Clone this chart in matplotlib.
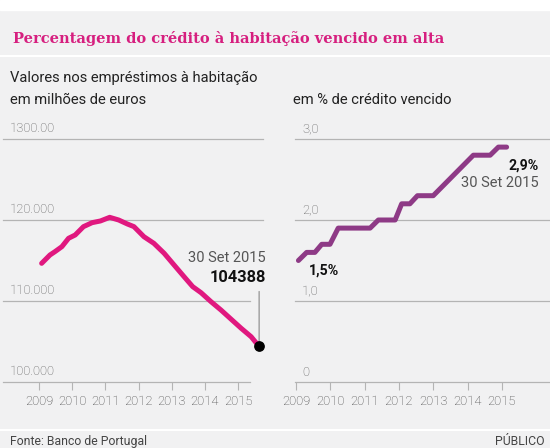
import matplotlib.pyplot as plt
import matplotlib.transforms as mtransforms

# left panel: housing loans, millions of euros
loan_t = [2009.08, 2009.33, 2009.48, 2009.69, 2009.89, 2010.09, 2010.34, 2010.60,
          2010.85, 2011.13, 2011.40, 2011.66, 2011.86, 2012.16, 2012.46, 2012.77,
          2013.07, 2013.37, 2013.63, 2013.88, 2014.18, 2014.48, 2014.79, 2015.09,
          2015.39, 2015.63]
loan_v = [114650, 115680, 116090, 116710, 117740, 118150, 119180, 119670,
          119880, 120330, 120000, 119510, 119180, 117940, 117120, 115890,
          114440, 113000, 111770, 111030, 109920, 108890, 107740, 106630,
          105590, 104388]

# right panel: % of overdue credit
overdue_t = [2009.07, 2009.31, 2009.55, 2009.75, 2009.99, 2010.23, 2011.16, 2011.40,
             2011.89, 2012.08, 2012.32, 2012.54, 2013.00, 2014.17, 2014.66, 2014.90,
             2015.14]
overdue_v = [1.5, 1.6, 1.6, 1.7, 1.7, 1.9, 1.9, 2.0,
             2.0, 2.2, 2.2, 2.3, 2.3, 2.8, 2.8, 2.9,
             2.9]

years = [2009, 2010, 2011, 2012, 2013, 2014, 2015]
left_ticks = [100000, 110000, 120000, 130000]
left_labels = ['100.000', '110.000', '120.000', '1300.00']
right_ticks = [0, 1, 2, 3]
right_labels = ['0', '1,0', '2,0', '3,0']

BG = '#f1f1f2'
PINK = '#e0187f'
PURPLE = '#8e3a86'
GRID = '#b4b4b4'
W, H = 550, 448

plt.rcParams['font.family'] = ['Roboto', 'DejaVu Sans']

fig = plt.figure(figsize=(5.5, 4.48), dpi=100, facecolor=BG)


def px_box(x0, x1, ytop, ybot):
    return [x0 / W, (H - ybot) / H, (x1 - x0) / W, (ybot - ytop) / H]


# top white strip and white separators
fig.patches.append(plt.Rectangle((0, 1 - 10 / H), 1, 10 / H, transform=fig.transFigure,
                                 color='white', zorder=0))
for yy in (56, 430):
    fig.add_artist(plt.Line2D([0, 1], [1 - yy / H] * 2, transform=fig.transFigure,
                              color='white', lw=1.5))

fig.text(13 / W, 1 - 39 / H, 'Percentagem do crédito à habitação vencido em alta',
         family='DejaVu Serif', weight='bold', fontsize=10.5, color='#d61f7f',
         va='center', ha='left')
fig.text(10 / W, 1 - 78 / H, 'Valores nos empréstimos à habitação', fontsize=10.6,
         color='#222222', va='center')
fig.text(10 / W, 1 - 100 / H, 'em milhões de euros', fontsize=10.6,
         color='#222222', va='center')
fig.text(293 / W, 1 - 100 / H, 'em % de crédito vencido', fontsize=10.6,
         color='#222222', va='center')
fig.text(10 / W, 1 - 441 / H, 'Fonte: Banco de Portugal', fontsize=8.8,
         color='#444444', va='center')
fig.text(545 / W, 1 - 441 / H, 'PÚBLICO', fontsize=8.8, color='#444444',
         va='center', ha='right')


def style_axis(ax, ticks, labels, short_from=None):
    ax.set_facecolor('none')
    for s in ax.spines.values():
        s.set_visible(False)
    ax.set_yticks([])
    ax.set_xticks(years)
    ax.set_xticklabels([str(y) for y in years], fontsize=9.4, color='#444444',
                       fontweight='light')
    ax.tick_params(axis='x', length=6, width=0.8, color=GRID, pad=3)
    trans = mtransforms.blended_transform_factory(ax.transAxes, ax.transData)
    for t, lab in zip(ticks, labels):
        xmax = 1.0
        if short_from is not None and t <= short_from:
            xmax = 0.95
        ax.plot([0, xmax], [t, t], transform=trans, color=GRID, lw=0.9,
                clip_on=False, zorder=1)
        ax.annotate(lab, (0, t), xycoords=trans, xytext=(7, 10),
                    textcoords='offset pixels', fontsize=9.4, color='#5a5a5a',
                    fontweight='light', va='center', ha='left')


# left chart
ax1 = fig.add_axes(px_box(3, 263, 139, 382))
ax1.set_xlim(2007.916, 2015.747)
ax1.set_ylim(100000, 130000)
style_axis(ax1, left_ticks, left_labels, short_from=110000)
ax1.plot(loan_t, loan_v, color=PINK, lw=3.6, solid_capstyle='round',
         solid_joinstyle='round', clip_on=False, zorder=3)
end = (loan_t[-1], loan_v[-1])
ax1.annotate('', xy=end, xytext=(0, 55), textcoords='offset pixels',
             arrowprops=dict(arrowstyle='-', color='#888888', lw=0.8,
                             shrinkA=0, shrinkB=0), zorder=2)
ax1.scatter([end[0]], [end[1]], s=45, color='black', zorder=4, clip_on=False)
ax1.annotate('30 Set 2015', end, xytext=(7, 88), textcoords='offset pixels',
             fontsize=10.5, color='#555555', ha='right', va='center')
ax1.annotate(f'{loan_v[-1]}', end, xytext=(7, 69), textcoords='offset pixels',
             fontsize=11.8, fontweight='bold', color='#111111', ha='right',
             va='center')

# right chart
ax2 = fig.add_axes(px_box(295, 550, 139, 382))
ax2.set_xlim(2008.97, 2016.405)
ax2.set_ylim(0, 3)
style_axis(ax2, right_ticks, right_labels)
ax2.plot(overdue_t, overdue_v, color=PURPLE, lw=3.6, solid_capstyle='round',
         solid_joinstyle='round', clip_on=False, zorder=3)
ax2.annotate('1,5%', (overdue_t[0], overdue_v[0]), xytext=(10, -10),
             textcoords='offset pixels', fontsize=10.2, fontweight='bold',
             color='#111111', ha='left', va='center')
ax2.annotate('2,9%', (overdue_t[-1], overdue_v[-1]), xytext=(32, -18),
             textcoords='offset pixels', fontsize=10.2, fontweight='bold',
             color='#111111', ha='right', va='center')
ax2.annotate('30 Set 2015', (overdue_t[-1], overdue_v[-1]), xytext=(32, -36),
             textcoords='offset pixels', fontsize=10.5, color='#555555',
             ha='right', va='center')

fig.savefig('out.png', dpi=100, facecolor=BG)
